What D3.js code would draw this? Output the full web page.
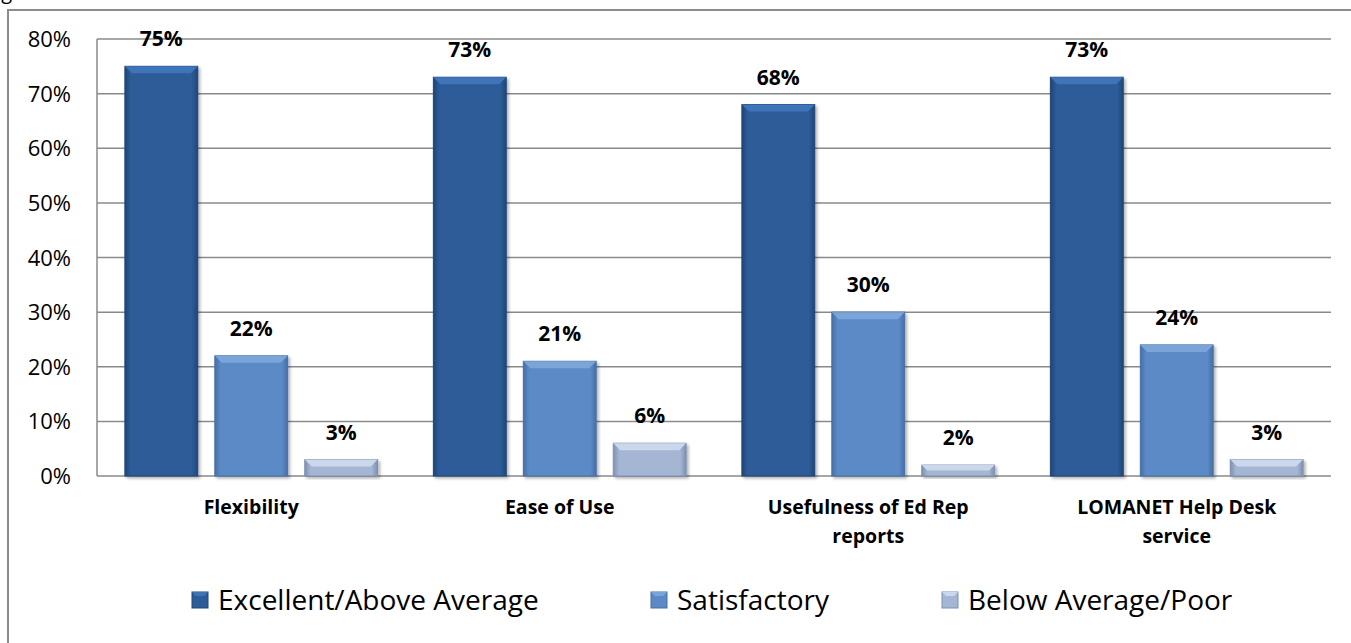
<!DOCTYPE html>
<html>
<head>
<meta charset="utf-8">
<script src="https://cdn.jsdelivr.net/npm/d3@7"></script>
<style>
  body { margin: 0; background: #fff; overflow: hidden; }
  text { font-family: "Open Sans", Lato, sans-serif; }
</style>
</head>
<body>
<script>
// survey ratings by category
var categories = ["Flexibility", "Ease of Use", "Usefulness of Ed Rep reports", "LOMANET Help Desk service"];
var series = ["Excellent/Above Average", "Satisfactory", "Below Average/Poor"];
var excellent = [75, 73, 68, 73];
var satisfactory = [22, 21, 30, 24];
var belowAvg = [3, 6, 2, 3];
var yTicks = [0, 10, 20, 30, 40, 50, 60, 70, 80];

var values = [excellent, satisfactory, belowAvg];
var colors = [
  {top: "#3f74b8", mid: "#2d5c98", dark: "#1f4677"},
  {top: "#7ba4d9", mid: "#5b8ac6", dark: "#4670a6"},
  {top: "#cbd7eb", mid: "#a4b6d4", dark: "#7d90b0"}
];

var W = 1351, H = 643;
var svg = d3.select("body").append("svg").attr("width", W).attr("height", H);

// gradients
var defs = svg.append("defs");
colors.forEach(function(c, i) {
  var g = defs.append("linearGradient").attr("id", "g" + i)
    .attr("x1", 0).attr("x2", 1).attr("y1", 0).attr("y2", 0);
  g.append("stop").attr("offset", "0%").attr("stop-color", c.dark);
  g.append("stop").attr("offset", "8%").attr("stop-color", c.mid);
  g.append("stop").attr("offset", "92%").attr("stop-color", c.mid);
  g.append("stop").attr("offset", "100%").attr("stop-color", c.dark);
});
var sh = defs.append("filter").attr("id", "shadow").attr("x", "-10%").attr("y", "-10%").attr("width", "130%").attr("height", "130%");
sh.append("feDropShadow").attr("dx", 2).attr("dy", 2).attr("stdDeviation", 1.5).attr("flood-color", "#000").attr("flood-opacity", 0.3);

// cut-off heading text at top left
svg.append("text").attr("x", -14).attr("y", -1).text("Figure")
  .style("font-size", "20px").attr("fill", "#000");

// outer frame
svg.append("rect").attr("x", 8).attr("y", 10).attr("width", W + 10).attr("height", H + 10)
  .attr("fill", "#fff").attr("stroke", "#8c8c8c").attr("stroke-width", 2)
  .attr("filter", "url(#shadow)");

var pLeft = 97, pRight = 1331, pTop = 39, pBottom = 476;

var x0 = d3.scaleBand().domain(categories).range([pLeft, pRight]).paddingInner(0).paddingOuter(0);
var x1 = d3.scaleBand().domain([0, 1, 2]).range([0, x0.bandwidth()]).paddingInner(0.19).paddingOuter(0.31);
var y = d3.scaleLinear().domain([0, 80]).range([pBottom, pTop]);

// gridlines
svg.append("g").selectAll("line").data(yTicks).join("line")
  .attr("x1", pLeft).attr("x2", pRight)
  .attr("y1", function(d) { return y(d); }).attr("y2", function(d) { return y(d); })
  .attr("stroke", "#8a8a8a").attr("stroke-width", 1.5);
svg.append("line").attr("x1", pLeft).attr("x2", pLeft).attr("y1", pTop).attr("y2", pBottom)
  .attr("stroke", "#8a8a8a").attr("stroke-width", 1.5);

// y labels
svg.append("g").selectAll("text").data(yTicks).join("text")
  .attr("x", 71).attr("y", function(d) { return y(d) + 8; })
  .attr("text-anchor", "end").style("font-size", "22px").attr("fill", "#000")
  .text(function(d) { return d + "%"; });

// bars
for (var s = 0; s < 3; s++) {
  var g = svg.append("g");
  categories.forEach(function(cat, i) {
    var v = values[s][i];
    var bx = x0(cat) + x1(s), bw = x1.bandwidth();
    var by = y(v), bh = pBottom - y(v);
    var bev = Math.min(7, bh / 2);
    g.append("rect").attr("x", bx).attr("y", by).attr("width", bw).attr("height", bh)
      .attr("fill", "url(#g" + s + ")").attr("stroke", colors[s].dark).attr("stroke-width", 1)
      .attr("filter", "url(#shadow)");
    // bevel top face
    g.append("path")
      .attr("d", "M" + bx + "," + by + "L" + (bx + bw) + "," + by + "L" + (bx + bw - bev) + "," + (by + bev) +
        "L" + (bx + bev) + "," + (by + bev) + "Z")
      .attr("fill", colors[s].top);
    g.append("text").attr("x", bx + bw / 2).attr("y", by - 20)
      .attr("text-anchor", "middle").style("font-size", "21px").style("font-weight", "bold")
      .attr("fill", "#000").text(v + "%");
  });
}

// category labels (wrapped)
var catLines = [["Flexibility"], ["Ease of Use"], ["Usefulness of Ed Rep", "reports"], ["LOMANET Help Desk", "service"]];
categories.forEach(function(cat, i) {
  var t = svg.append("text").attr("x", x0(cat) + x0.bandwidth() / 2).attr("y", 514)
    .attr("text-anchor", "middle").style("font-size", "19.5px").style("font-weight", "bold").attr("fill", "#000");
  catLines[i].forEach(function(l, j) {
    t.append("tspan").attr("x", x0(cat) + x0.bandwidth() / 2).attr("dy", j === 0 ? 0 : 29).text(l);
  });
});

// legend
var legX = [192, 651, 942];
series.forEach(function(name, i) {
  svg.append("rect").attr("x", legX[i]).attr("y", 592).attr("width", 16).attr("height", 16)
    .attr("fill", colors[i].mid).attr("stroke", colors[i].dark).attr("stroke-width", 1);
  svg.append("path")
    .attr("d", "M" + legX[i] + ",592L" + (legX[i] + 16) + ",592L" + (legX[i] + 12) + ",596L" + (legX[i] + 4) + ",596Z")
    .attr("fill", colors[i].top);
  svg.append("text").attr("x", legX[i] + 26).attr("y", 610)
    .style("font-size", "28px").attr("fill", "#000").text(name);
});
</script>
</body>
</html>
